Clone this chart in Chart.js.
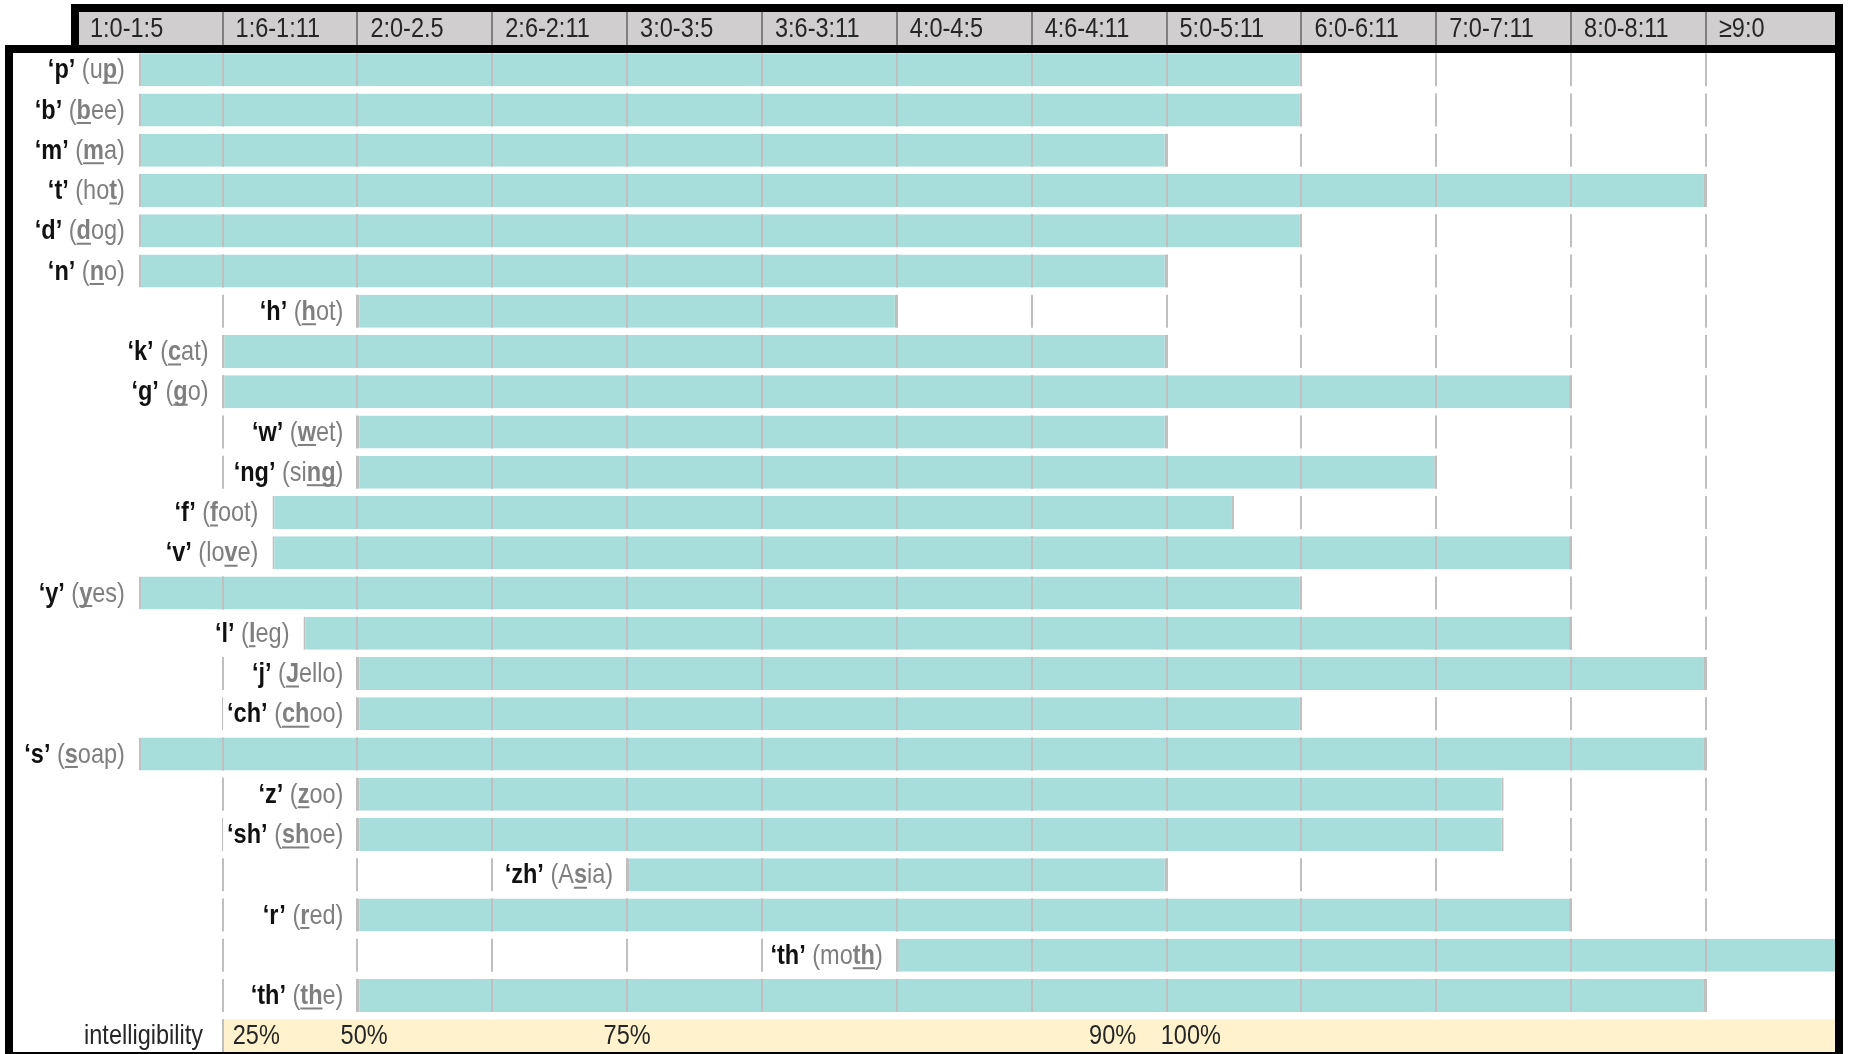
<!DOCTYPE html>
<html>
<head>
<meta charset="utf-8">
<script src="https://cdn.jsdelivr.net/npm/chart.js@4.4.1/dist/chart.umd.min.js"></script>
<style>
  html, body { margin: 0; padding: 0; background: #fff; }
  #wrap { width: 1849px; height: 1054px; position: relative; }
</style>
</head>
<body>
<div id="wrap"><canvas id="chart"></canvas></div>
<script>
// age columns across the top
const ageBands = ["1:0-1:5", "1:6-1:11", "2:0-2.5", "2:6-2:11", "3:0-3:5", "3:6-3:11", "4:0-4:5", "4:6-4:11", "5:0-5:11", "6:0-6:11", "7:0-7:11", "8:0-8:11", "≥9:0"];

// sounds and example words ([..] = underlined letters)
const phonemes = ["p", "b", "m", "t", "d", "n", "h", "k", "g", "w", "ng", "f", "v", "y", "l", "j", "ch", "s", "z", "sh", "zh", "r", "th", "th"];
const words = ["u[p]", "[b]ee", "[m]a", "ho[t]", "[d]og", "[n]o", "[h]ot", "[c]at", "[g]o", "[w]et", "si[ng]", "[f]oot", "lo[v]e", "[y]es", "[l]eg", "[J]ello", "[ch]oo", "[s]oap", "[z]oo", "[sh]oe", "A[s]ia", "[r]ed", "mo[th]", "[th]e"];

// bar start / end in age columns (0 = 1:0-1:5 column, 13 = end of ≥9:0)
const starts = [0.38, 0.38, 0.38, 0.38, 0.38, 0.38, 2, 1, 1, 2, 2, 1.37, 1.37, 0.38, 1.6, 2, 2, 0.38, 2, 2, 4, 2, 6, 2];
const ends = [9, 9, 8, 12, 9, 8, 6, 8, 11, 8, 10, 8.5, 11, 9, 11, 12, 9, 12, 10.5, 10.5, 8, 11, 13, 12];

// intelligibility row
const intelLabels = ["25%", "50%", "75%", "90%", "100%"];
const intelPos = [1.25, 2.05, 4.0, 7.6, 8.18];

// no narrow font installed: squeeze Liberation Sans instead
const FONT = '"Liberation Sans", Arial, sans-serif';
const SQUEEZE = 0.84;
const SIZE = 28;
const TEAL = "#a7dedb";
const GRID = "#bfbfbf";
const WORD = "#7f7f7f";

// frame geometry (page layout)
const frameLeft = 5, headLeft = 71, frameRight = 1843, bw = 8;
const headTop = 4, headBottom = 53;

function setFont(ctx, bold) {
  ctx.font = (bold ? "bold " : "") + SIZE + "px " + FONT;
}

function textWidth(ctx, t, bold) {
  setFont(ctx, bold);
  return ctx.measureText(t).width * SQUEEZE;
}

// draws narrow text, left edge at x
function narrowText(ctx, t, x, y, bold, color) {
  setFont(ctx, bold);
  ctx.save();
  ctx.translate(x, y);
  ctx.scale(SQUEEZE, 1);
  ctx.fillStyle = color;
  ctx.textAlign = "left";
  ctx.textBaseline = "middle";
  ctx.fillText(t, 0, 0);
  ctx.restore();
}

function splitWord(w) {
  const m = w.match(/^(.*)\[(.*)\](.*)$/);
  return [m[1], m[2], m[3]];
}

function drawRowLabel(ctx, i, xRight, y, top, h) {
  const [a, u, b] = splitWord(words[i]);
  const parts = [
    { t: "‘" + phonemes[i] + "’", bold: true, color: "#111" },
    { t: " (" + a, bold: false, color: WORD },
    { t: u, bold: true, color: WORD, line: true },
    { t: b + ")", bold: false, color: WORD }
  ];
  let total = 0;
  parts.forEach(p => {
    p.w = textWidth(ctx, p.t, p.bold);
    total += p.w;
  });
  let x = xRight - total;
  // white box hides the grid behind the text
  ctx.fillStyle = "#fff";
  ctx.fillRect(x - 4, top - 1, total + 8, h + 2);
  parts.forEach(p => {
    narrowText(ctx, p.t, x, y, p.bold, p.color);
    if (p.line && p.w > 0) {
      ctx.fillStyle = p.color;
      ctx.fillRect(x, y + 11, p.w, 2);
    }
    x += p.w;
  });
}

const tablePlugin = {
  id: "tablePlugin",
  afterDatasetsDraw(chart) {
    const ctx = chart.ctx;
    const xs = chart.scales.x;
    const meta = chart.getDatasetMeta(0);
    ctx.save();
    // column lines, one segment per row
    meta.data.forEach((el, i) => {
      const top = el.y - el.height / 2;
      for (let k = 1; k <= 12; k++) {
        const px = Math.round(xs.getPixelForValue(k));
        ctx.fillStyle = GRID;
        ctx.fillRect(px - 1, top, 2, el.height);
      }
    });
    // row labels next to the bar start
    meta.data.forEach((el, i) => {
      const top = el.y - el.height / 2;
      const x0 = xs.getPixelForValue(starts[i]);
      drawRowLabel(ctx, i, x0 - 14, el.y + 1, top, el.height);
    });
    ctx.restore();
  },
  afterDraw(chart) {
    const ctx = chart.ctx;
    const xs = chart.scales.x;
    const meta = chart.getDatasetMeta(0);
    const last = meta.data[meta.data.length - 1];
    const pitch = (chart.chartArea.bottom - chart.chartArea.top) / phonemes.length;
    const yc = last.y + pitch;
    const h = last.height;
    const ink = "#262626";
    ctx.save();

    // intelligibility row
    const x1 = Math.round(xs.getPixelForValue(1));
    ctx.fillStyle = "#fff2cc";
    ctx.fillRect(x1, yc - h / 2, frameRight - bw - x1, h);
    ctx.fillStyle = GRID;
    ctx.fillRect(x1 - 1, yc - h / 2, 2, h);
    const iw = textWidth(ctx, "intelligibility", false);
    narrowText(ctx, "intelligibility", x1 - 20 - iw, yc + 1, false, ink);
    intelLabels.forEach((t, i) => {
      const w = textWidth(ctx, t, false);
      narrowText(ctx, t, xs.getPixelForValue(intelPos[i]) - w / 2, yc + 1, false, ink);
    });

    // header band with age columns
    const hTop = headTop + bw, hH = headBottom - bw - headTop - bw;
    ctx.fillStyle = "#d0cece";
    ctx.fillRect(headLeft + bw, hTop, frameRight - bw - headLeft - bw, hH);
    ctx.fillStyle = "#808080";
    for (let k = 1; k < ageBands.length; k++) {
      const px = Math.round(xs.getPixelForValue(k));
      ctx.fillRect(px - 1, hTop, 2, hH);
    }
    ageBands.forEach((t, k) => {
      const px = k === 0 ? headLeft + bw + 11 : xs.getPixelForValue(k) + 13;
      narrowText(ctx, t, px, hTop + hH / 2 + 1, false, ink);
    });

    // black frame
    ctx.fillStyle = "#000";
    ctx.fillRect(headLeft, headTop, frameRight - headLeft, bw);
    ctx.fillRect(headLeft, headTop, bw, headBottom - headTop);
    ctx.fillRect(frameLeft, headBottom - bw, frameRight - frameLeft, bw);
    ctx.fillRect(frameLeft, headBottom - bw, bw, chart.height);
    ctx.fillRect(frameRight - bw, headTop, bw, chart.height);
    ctx.fillRect(frameLeft, chart.height - 2, frameRight - frameLeft, 2);
    ctx.restore();
  }
};

new Chart(document.getElementById("chart"), {
  type: "bar",
  data: {
    labels: phonemes.map((p, i) => p + " " + i),
    datasets: [{
      data: starts.map((s, i) => [s, ends[i]]),
      backgroundColor: TEAL,
      borderColor: GRID,
      borderWidth: { left: 2, right: 2, top: 0, bottom: 0 },
      borderSkipped: false,
      barPercentage: 0.82,
      categoryPercentage: 1
    }]
  },
  options: {
    indexAxis: "y",
    responsive: true,
    maintainAspectRatio: false,
    animation: false,
    devicePixelRatio: 1,
    layout: { padding: { left: 87.7, right: 8.2, top: 49.6, bottom: 38.4 } },
    scales: {
      x: { type: "linear", min: 0, max: 13, display: false },
      y: { type: "category", display: false }
    },
    plugins: {
      legend: { display: false },
      tooltip: { enabled: false }
    }
  },
  plugins: [tablePlugin]
});
</script>
</body>
</html>
